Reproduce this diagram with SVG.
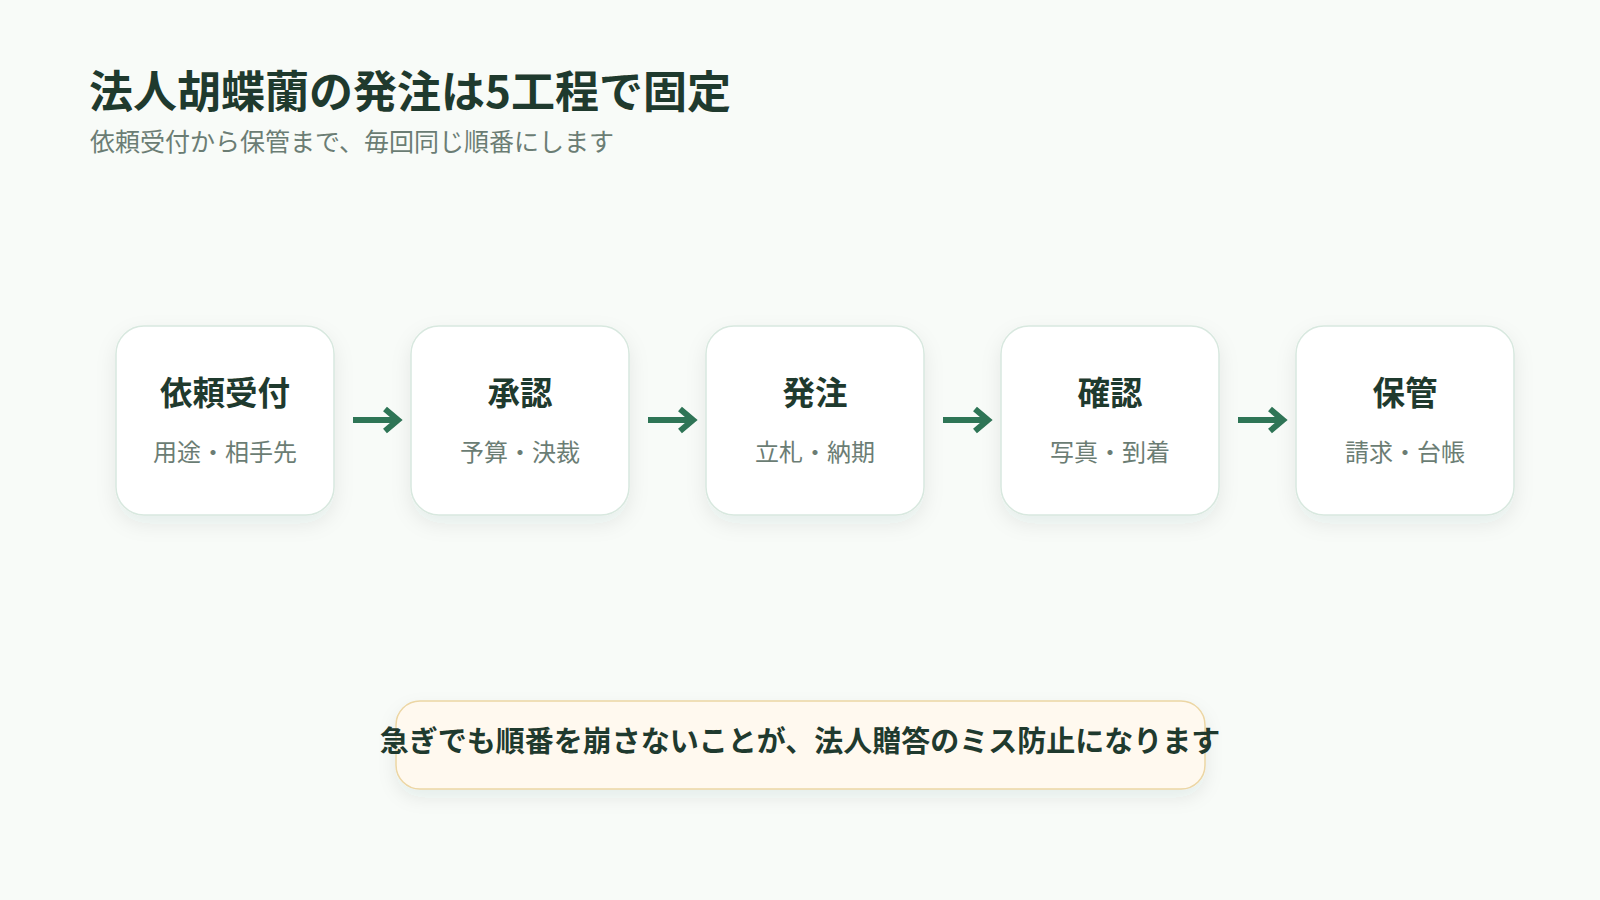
<svg xmlns="http://www.w3.org/2000/svg" width="1600" height="900" viewBox="0 0 1600 900">
  <style>
    text { font-family: "Noto Sans CJK JP", "Noto Sans", sans-serif; }
    .title { font-size: 44px; font-weight: 700; fill: #1f3a2e; }
    .sub { font-size: 25px; fill: #6b7d74; }
    .card { fill: #ffffff; stroke: #d8e8df; stroke-width: 1.5; filter: url(#sh); }
    .nt { font-size: 32.5px; font-weight: 700; fill: #1f3a2e; text-anchor: middle; }
    .ns { font-size: 24px; fill: #6b7d74; text-anchor: middle; }
    .arr { fill: none; stroke: #2e7556; stroke-width: 6; stroke-linecap: butt; stroke-linejoin: miter; }
    .note { fill: #fff9ef; stroke: #ecd6a4; stroke-width: 1.5; filter: url(#sh2); }
    .nt2 { font-size: 29px; font-weight: 700; fill: #1f3a2e; text-anchor: middle; }
  </style>
  <defs>
    <filter id="sh" x="-20%" y="-20%" width="140%" height="150%">
      <feDropShadow dx="0" dy="8" stdDeviation="10" flood-color="#1f3a2e" flood-opacity="0.08"/>
    </filter>
    <filter id="sh2" x="-10%" y="-30%" width="120%" height="170%">
      <feDropShadow dx="0" dy="8" stdDeviation="9" flood-color="#1f3a2e" flood-opacity="0.08"/>
    </filter>
  </defs>
  <rect width="1600" height="900" fill="#f8fbf8"/>
  <text class="title" x="89" y="108">法人胡蝶蘭の発注は5工程で固定</text>
  <text class="sub" x="90" y="151">依頼受付から保管まで、毎回同じ順番にします</text>

  <g id="connectors">
    <path class="arr" d="M353 420 H397 M385 409 L398 420 L385 431"/>
    <path class="arr" d="M648 420 H692 M680 409 L693 420 L680 431"/>
    <path class="arr" d="M943 420 H987 M975 409 L988 420 L975 431"/>
    <path class="arr" d="M1238 420 H1282 M1270 409 L1283 420 L1270 431"/>
  </g>

  <g id="n1">
    <rect class="card" x="116" y="326" width="218" height="189" rx="28"/>
    <text class="nt" x="225" y="405">依頼受付</text>
    <text class="ns" x="225" y="461">用途・相手先</text>
  </g>
  <g id="n2">
    <rect class="card" x="411" y="326" width="218" height="189" rx="28"/>
    <text class="nt" x="520" y="405">承認</text>
    <text class="ns" x="520" y="461">予算・決裁</text>
  </g>
  <g id="n3">
    <rect class="card" x="706" y="326" width="218" height="189" rx="28"/>
    <text class="nt" x="815" y="405">発注</text>
    <text class="ns" x="815" y="461">立札・納期</text>
  </g>
  <g id="n4">
    <rect class="card" x="1001" y="326" width="218" height="189" rx="28"/>
    <text class="nt" x="1110" y="405">確認</text>
    <text class="ns" x="1110" y="461">写真・到着</text>
  </g>
  <g id="n5">
    <rect class="card" x="1296" y="326" width="218" height="189" rx="28"/>
    <text class="nt" x="1405" y="405">保管</text>
    <text class="ns" x="1405" y="461">請求・台帳</text>
  </g>

  <g id="note">
    <rect class="note" x="396" y="701" width="809" height="88" rx="24"/>
    <text class="nt2" x="800" y="752">急ぎでも順番を崩さないことが、法人贈答のミス防止になります</text>
  </g>
</svg>
